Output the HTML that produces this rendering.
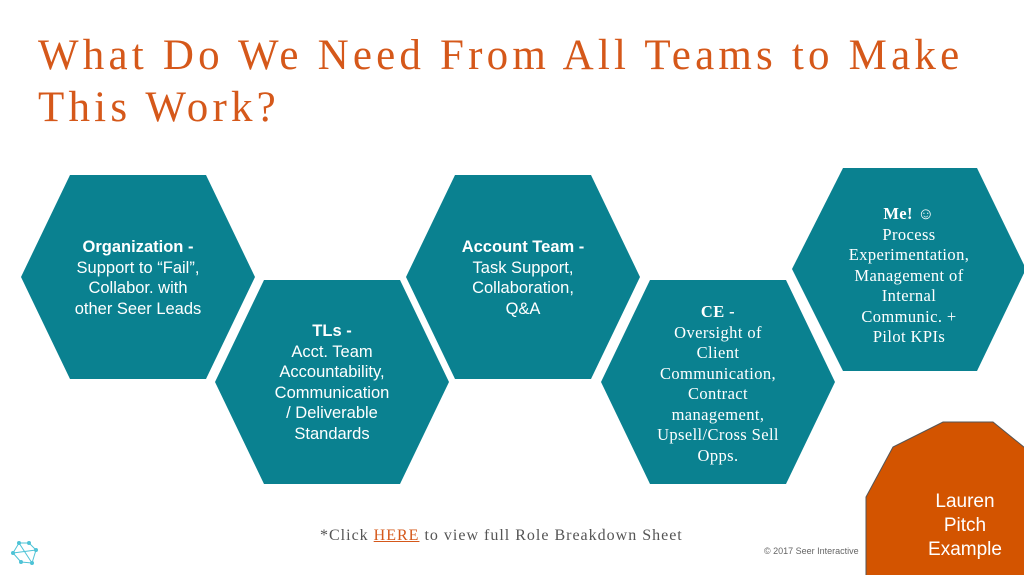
<!DOCTYPE html>
<html><head><meta charset="utf-8"><style>
body{margin:0;width:1024px;height:575px;background:#fff;position:relative;overflow:hidden;font-family:"Liberation Sans",sans-serif}
.t{position:absolute;left:38px;top:30px;color:#d5581a;font-family:"Liberation Serif",serif;font-size:43px;line-height:52px;letter-spacing:4.2px}
.h{position:absolute;color:#fff;text-align:center;font-size:16.5px;line-height:20.5px}
.s{font-family:"Liberation Serif",serif;letter-spacing:0.4px}
</style></head><body>
<div class="t">What Do We Need From All Teams to Make<br>This Work?</div>
<svg width="1024" height="575" style="position:absolute;left:0;top:0">
<g fill="#0a8190">
<polygon points="21,277 70,175 206,175 255,277 206,379 70,379"/>
<polygon points="215,382 264,280 400,280 449,382 400,484 264,484"/>
<polygon points="406,277 455,175 591,175 640,277 591,379 455,379"/>
<polygon points="601,382 650,280 786,280 835,382 786,484 650,484"/>
<polygon points="792,269 843,168 977,168 1026,269 977,371 843,371"/>
</g>
<polygon points="943,422 993,422 1030,452 1030,580 866,580 866,497 893,447" fill="#d35400" stroke="#555" stroke-width="1"/>
<g stroke="#4ec3d6" stroke-width="1" fill="#4ec3d6">
<line x1="19" y1="543" x2="29" y2="543"/><line x1="29" y1="543" x2="36" y2="550"/><line x1="36" y1="550" x2="32" y2="563"/><line x1="32" y1="563" x2="21" y2="562"/><line x1="21" y1="562" x2="13" y2="553"/><line x1="13" y1="553" x2="19" y2="543"/><line x1="13" y1="553" x2="36" y2="550"/><line x1="19" y1="543" x2="32" y2="563"/>
<circle cx="19" cy="543" r="1.5"/><circle cx="29" cy="543" r="1.5"/><circle cx="36" cy="550" r="1.5"/><circle cx="32" cy="563" r="1.5"/><circle cx="21" cy="562" r="1.5"/><circle cx="13" cy="553" r="1.5"/>
</g>
</svg>
<div class="h" style="left:40px;top:237px;width:196px"><b>Organization -</b><br>Support to “Fail”,<br>Collabor. with<br>other Seer Leads</div>
<div class="h" style="left:234px;top:321px;width:196px"><b>TLs -</b><br>Acct. Team<br>Accountability,<br>Communication<br>/ Deliverable<br>Standards</div>
<div class="h" style="left:425px;top:237px;width:196px"><b>Account Team -</b><br>Task Support,<br>Collaboration,<br>Q&amp;A</div>
<div class="h s" style="left:620px;top:302px;width:196px"><b>CE -</b><br>Oversight of<br>Client<br>Communication,<br>Contract<br>management,<br>Upsell/Cross Sell<br>Opps.</div>
<div class="h s" style="left:810px;top:204px;width:198px"><b>Me!</b> ☺<br>Process<br>Experimentation,<br>Management of<br>Internal<br>Communic. +<br>Pilot KPIs</div>
<div class="h" style="left:905px;top:490px;width:120px;font-size:19px;line-height:24px">Lauren<br>Pitch<br>Example</div>
<div style="position:absolute;left:320px;top:527px;font-family:'Liberation Serif',serif;font-size:16px;letter-spacing:1px;color:#555">*Click <span style="color:#d5581a;text-decoration:underline">HERE</span> to view full Role Breakdown Sheet</div>
<div style="position:absolute;left:764px;top:546px;font-size:9px;color:#666">© 2017 Seer Interactive</div>
</body></html>
